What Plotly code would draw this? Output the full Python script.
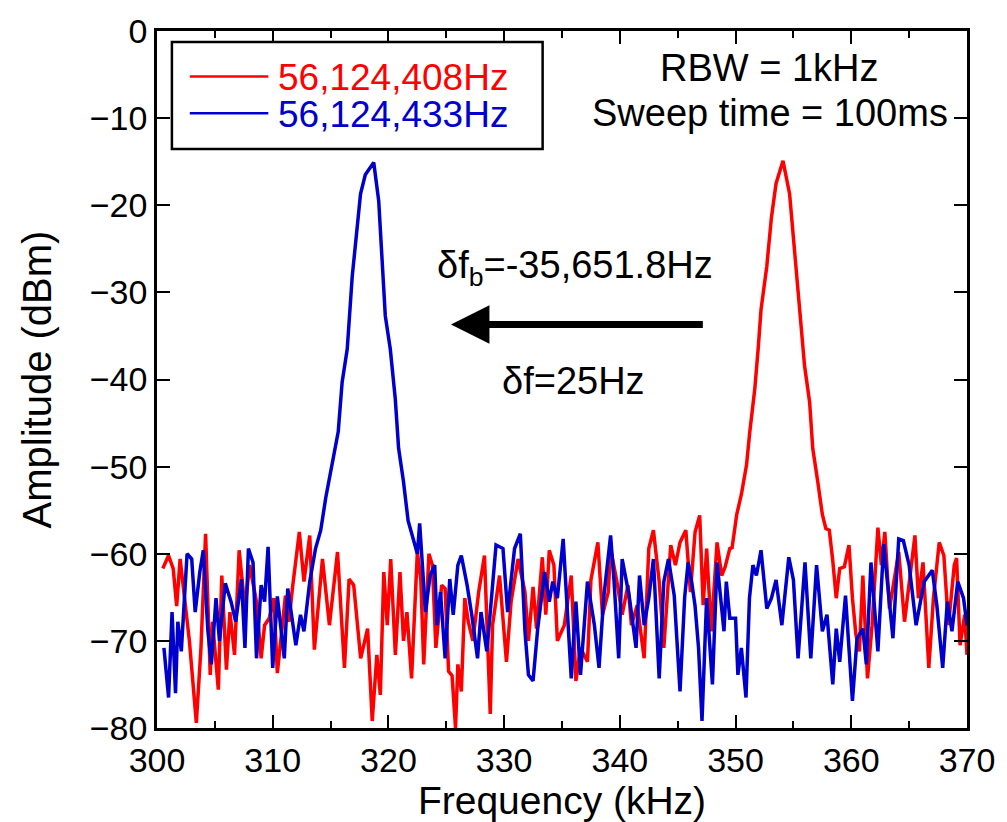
import plotly.graph_objects as go

# ---------------- data ----------------
red_khz = [300.5, 301.0, 301.4, 301.7, 302.0, 302.4, 302.8, 303.4, 303.8, 304.2, 304.6, 304.8,
           305.3, 305.6, 306.0, 306.3, 306.7, 307.1, 307.6, 308.0, 308.6, 309.0, 309.3, 309.7,
           310.1, 310.4, 310.7, 311.1, 311.4, 311.7, 312.3, 312.7, 313.2, 313.6, 314.3, 314.9,
           315.6, 316.2, 316.6, 317.0, 317.6, 318.2, 318.6, 319.0, 319.3, 319.6, 319.9, 320.2,
           320.6, 321.0, 321.3, 321.6, 322.0, 322.5, 322.8, 323.05, 323.5, 323.8, 324.1, 324.6,
           324.9, 325.2, 325.5, 325.8, 326.0, 326.3, 326.6, 326.9, 327.3, 327.8, 328.3, 328.8,
           329.0, 329.6, 330.2, 330.6, 331.2, 331.8, 332.1, 332.5, 332.8, 333.3, 333.6, 333.9,
           334.3, 334.6, 335.2, 335.8, 336.2, 336.6, 337.2, 337.5, 338.1, 338.5, 339.0, 339.2,
           339.8, 340.2, 340.7, 341.0, 341.5, 342.1, 342.5, 342.9, 343.4, 343.8, 344.4, 344.8,
           345.2, 345.7, 346.1, 346.5, 346.9, 347.2, 347.5, 347.9, 348.4, 348.8, 349.1, 349.5,
           349.7, 350.1, 350.5, 350.95, 351.23, 351.66, 351.95, 352.2, 352.7, 353.1, 353.5, 354.1,
           354.67, 355.1, 355.5, 355.96, 356.4, 356.67, 357.1, 357.5, 357.8, 358.1, 358.4, 358.7,
           359.0, 359.4, 359.8, 360.1, 360.4, 360.7, 361.0, 361.4, 361.8, 362.3, 362.6, 362.9,
           363.3, 363.7, 364.1, 364.6, 365.0, 365.5, 365.8, 366.2, 366.7, 367.1, 367.6, 368.0,
           368.4, 368.9, 369.1, 369.4, 369.8, 370.0]
red_dbm = [-61.7, -60.2, -61.7, -66.0, -60.6, -65.0, -70.0, -79.4, -70.8, -57.7, -73.9, -67.8,
           -75.6, -62.5, -73.3, -66.7, -71.6, -59.6, -66.3, -61.3, -65.5, -72.0, -68.2, -67.4,
           -65.1, -73.7, -70.0, -64.8, -67.8, -64.0, -57.5, -63.2, -57.9, -71.0, -60.6, -68.2,
           -59.8, -73.1, -62.9, -63.6, -72.0, -68.6, -79.2, -71.6, -76.2, -62.1, -68.2, -60.6,
           -71.6, -62.1, -70.0, -66.7, -74.3, -59.8, -63.0, -72.7, -60.0, -61.3, -70.8, -63.6,
           -64.0, -73.5, -74.0, -80.0, -72.7, -75.8, -65.1, -67.8, -70.0, -64.4, -60.2, -78.4,
           -68.2, -62.5, -72.4, -65.5, -60.6, -64.4, -70.0, -63.8, -68.6, -60.4, -67.0, -59.6,
           -61.3, -70.0, -68.2, -62.5, -74.6, -70.8, -72.4, -63.0, -58.7, -67.0, -64.4, -59.4,
           -63.6, -67.0, -63.6, -68.2, -65.9, -72.0, -59.4, -57.3, -63.2, -70.8, -59.0, -61.3,
           -58.7, -57.3, -64.4, -57.5, -55.6, -65.9, -59.4, -68.9, -58.7, -62.5, -61.5, -59.4,
           -59.3, -55.5, -53.2, -49.8, -46.0, -41.1, -36.5, -32.0, -27.0, -21.4, -17.5, -14.9,
           -18.7, -25.1, -32.0, -38.4, -42.6, -47.9, -51.7, -55.5, -57.1, -57.3, -60.8, -65.1,
           -61.7, -61.5, -59.0, -65.1, -69.3, -71.2, -62.5, -74.3, -68.2, -57.0, -61.3, -57.5,
           -66.3, -63.2, -59.8, -67.8, -63.2, -57.9, -65.1, -61.0, -73.1, -65.1, -58.7, -60.2,
           -68.2, -61.3, -60.5, -70.5, -67.0, -71.6]

blue_khz = [300.6, 301.0, 301.3, 301.6, 301.8, 302.1, 302.6, 303.0, 303.3, 303.7, 304.0, 304.4,
            304.7, 305.1, 305.4, 305.9, 306.4, 306.8, 307.3, 307.6, 307.9, 308.3, 308.6, 309.0,
            309.3, 309.6, 310.0, 310.4, 311.0, 311.3, 312.0, 312.4, 312.7, 313.2, 313.7, 314.0,
            314.15, 314.58, 315.15, 315.66, 316.0, 316.44, 316.87, 317.3, 317.59, 318.0, 318.73, 319.16,
            319.45, 319.73, 320.16, 320.59, 320.88, 321.3, 321.7, 322.2, 322.5, 322.7, 323.2, 323.6,
            324.0, 324.2, 324.5, 324.9, 325.3, 325.6, 326.0, 326.3, 326.8, 327.2, 327.7, 328.0,
            328.5, 328.8, 329.3, 329.9, 330.3, 330.9, 331.4, 331.8, 332.1, 332.5, 332.9, 333.5,
            333.9, 334.2, 334.6, 335.1, 335.5, 335.8, 336.2, 336.6, 337.2, 337.8, 338.2, 338.6,
            339.2, 339.5, 339.9, 340.2, 340.8, 341.4, 341.7, 342.1, 342.5, 342.9, 343.4, 343.8,
            344.2, 344.7, 345.2, 345.6, 345.9, 346.2, 346.5, 346.8, 347.1, 347.5, 348.0, 348.4,
            349.0, 349.2, 349.5, 350.0, 350.2, 350.5, 350.9, 351.2, 351.5, 351.8, 352.2, 352.7,
            353.1, 353.5, 354.0, 354.6, 355.0, 355.4, 356.0, 356.5, 357.0, 357.5, 357.9, 358.4,
            358.7, 359.0, 359.5, 360.1, 360.5, 361.0, 361.3, 361.7, 362.3, 362.8, 363.6, 364.1,
            364.5, 365.0, 365.6, 366.3, 367.0, 367.4, 367.9, 368.3, 368.7, 369.2, 369.7, 370.0]
blue_dbm = [-70.8, -76.5, -66.7, -76.0, -67.8, -71.2, -60.0, -60.6, -66.7, -62.1, -59.6, -68.9,
            -72.7, -65.1, -70.0, -63.4, -65.5, -67.8, -62.9, -70.8, -59.4, -61.0, -72.0, -63.6,
            -65.5, -59.2, -73.1, -64.9, -72.0, -64.0, -70.5, -67.0, -68.9, -63.2, -59.4, -57.9,
            -57.3, -53.6, -49.8, -46.0, -40.3, -36.5, -28.2, -22.5, -18.7, -16.5, -15.1, -19.5,
            -27.0, -32.7, -36.5, -42.2, -47.9, -51.7, -56.2, -58.5, -60.0, -56.5, -66.7, -62.5,
            -61.3, -68.2, -64.4, -72.0, -62.9, -67.0, -61.3, -60.2, -63.6, -67.0, -72.0, -66.7,
            -71.2, -66.7, -59.0, -59.4, -66.7, -59.4, -57.7, -68.9, -73.9, -74.6, -68.6, -62.1,
            -65.5, -63.2, -65.1, -58.3, -68.2, -74.3, -65.5, -73.9, -63.2, -68.2, -73.1, -65.1,
            -57.9, -63.2, -72.0, -60.6, -64.8, -70.8, -62.5, -68.2, -65.1, -60.6, -74.3, -63.2,
            -60.6, -64.8, -75.8, -65.0, -61.0, -63.2, -66.0, -70.8, -79.2, -65.1, -75.0, -61.0,
            -68.9, -63.2, -67.4, -67.4, -73.9, -70.8, -76.5, -65.1, -61.3, -62.5, -59.6, -66.3,
            -65.1, -63.0, -68.2, -60.4, -63.0, -72.0, -61.0, -72.0, -61.3, -68.9, -67.0, -75.0,
            -68.6, -72.4, -64.8, -76.9, -69.7, -68.6, -72.7, -61.0, -71.2, -58.9, -69.7, -58.3,
            -58.5, -61.3, -68.2, -63.2, -61.9, -66.0, -73.1, -65.5, -68.9, -63.2, -65.1, -68.2]

red_name = "56,124,408Hz"
blue_name = "56,124,433Hz"
x_ticks = [300, 310, 320, 330, 340, 350, 360, 370]
y_ticks = [0, -10, -20, -30, -40, -50, -60, -70, -80]

RED = "#ff0000"
BLUE = "#0000cc"
FONT = "Liberation Sans, Arial, sans-serif"

fig = go.Figure()
fig.add_trace(go.Scatter(x=red_khz, y=red_dbm, mode="lines",
                         line=dict(color=RED, width=3.5), name=red_name, showlegend=False))
fig.add_trace(go.Scatter(x=blue_khz, y=blue_dbm, mode="lines",
                         line=dict(color=BLUE, width=3.5), name=blue_name, showlegend=False))

axis_common = dict(showline=True, linecolor="black", linewidth=2.5, mirror="allticks",
                   ticks="inside", tickcolor="black", tickwidth=2, ticklen=13,
                   showgrid=False, zeroline=False,
                   tickfont=dict(family=FONT, size=34, color="black"))

fig.update_xaxes(range=[300, 370], tickvals=x_ticks,
                 minor=dict(ticks="inside", dtick=5, ticklen=7, tickwidth=2, tickcolor="black"),
                 title=dict(text="Frequency (kHz)", font=dict(family=FONT, size=39, color="black"),
                            standoff=4),
                 **axis_common)
fig.update_yaxes(range=[-80, 0], tickvals=y_ticks,
                 title=dict(text="Amplitude (dBm)", font=dict(family=FONT, size=40, color="black"),
                            standoff=26),
                 **axis_common)

# manual legend (box, line samples, coloured labels) in paper coordinates
def px_x(p):
    return (p - 157) / 815.0


def px_y(p):
    return 1 - (p - 29) / 703.0


shapes = [
    dict(type="rect", xref="paper", yref="paper", x0=px_x(172), x1=px_x(545),
         y0=px_y(148), y1=px_y(40), line=dict(color="black", width=2.5), fillcolor="white",
         layer="above"),
    dict(type="line", xref="paper", yref="paper", x0=px_x(190), x1=px_x(269),
         y0=px_y(75), y1=px_y(75), line=dict(color=RED, width=2.5)),
    dict(type="line", xref="paper", yref="paper", x0=px_x(190), x1=px_x(269),
         y0=px_y(112), y1=px_y(112), line=dict(color=BLUE, width=2.5)),
]

annotations = [
    dict(x=px_x(277), y=px_y(76), xref="paper", yref="paper", text=red_name,
         xanchor="left", yanchor="middle", showarrow=False,
         font=dict(family=FONT, size=37, color=RED)),
    dict(x=px_x(277), y=px_y(113), xref="paper", yref="paper", text=blue_name,
         xanchor="left", yanchor="middle", showarrow=False,
         font=dict(family=FONT, size=37, color=BLUE)),
    dict(x=px_x(773), y=px_y(66), xref="paper", yref="paper", text="RBW = 1kHz",
         xanchor="center", yanchor="middle", showarrow=False,
         font=dict(family=FONT, size=38, color="black")),
    dict(x=px_x(774), y=px_y(112), xref="paper", yref="paper", text="Sweep time = 100ms",
         xanchor="center", yanchor="middle", showarrow=False,
         font=dict(family=FONT, size=38, color="black")),
    dict(x=px_x(578), y=px_y(268), xref="paper", yref="paper",
         text="δf<sub>b</sub>=-35,651.8Hz", xanchor="center", yanchor="middle",
         showarrow=False, font=dict(family=FONT, size=38, color="black")),
    dict(x=px_x(576), y=px_y(382), xref="paper", yref="paper", text="δf=25Hz",
         xanchor="center", yanchor="middle", showarrow=False,
         font=dict(family=FONT, size=38, color="black")),
    dict(x=325.4, y=-33.7, xref="x", yref="y", ax=347.3, ay=-33.7, axref="x", ayref="y",
         text="", showarrow=True, arrowhead=2, arrowsize=1.1, arrowwidth=7,
         arrowcolor="black"),
]

fig.update_layout(
    width=1007, height=822,
    margin=dict(l=157, r=35, t=29, b=90),
    plot_bgcolor="white", paper_bgcolor="white",
    font=dict(family=FONT, size=34, color="black"),
    showlegend=False,
    shapes=shapes,
    annotations=annotations,
)

fig.write_html("out.html")
